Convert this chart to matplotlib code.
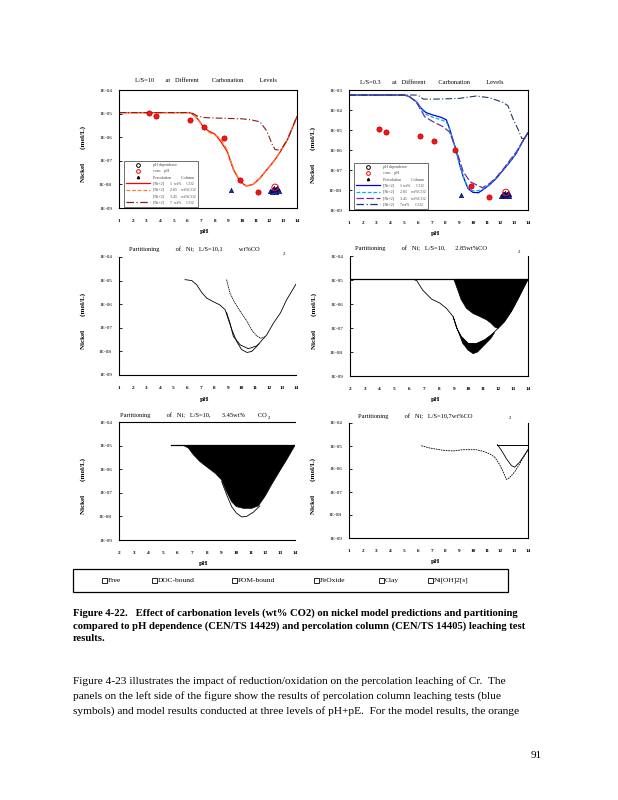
import numpy as np
import matplotlib
matplotlib.use("Agg")
from matplotlib import pyplot as plt
from matplotlib.lines import Line2D
from matplotlib.patches import Rectangle

plt.rcParams['font.family'] = ['Liberation Serif', 'DejaVu Sans']

W, H = 618, 800

# ---------- data ----------
# pH dependence test (L/S=10) and percolation column results
phdep_ph = [3.2, 3.7, 6.15, 7.2, 8.7, 9.85, 11.15]
phdep_ni = [1.1e-5, 7.8e-6, 5.3e-6, 2.7e-6, 9.5e-7, 1.5e-8, 4.7e-9]
conc_ph = [12.4]
conc_ni = [7.5e-9]
perc_ph = [9.15, 12.05, 12.15, 12.2, 12.3, 12.35, 12.45, 12.5, 12.6, 12.65, 12.25, 12.55]
perc_ni = [5.8e-9, 5.2e-9, 6.0e-9, 4.9e-9, 5.6e-9, 7.0e-9, 6.2e-9, 5.0e-9, 6.5e-9, 5.3e-9, 6.6e-9, 7.2e-9]

# L/S=10 model curves
m10_1_ph = [1, 3, 5, 6.2, 6.55, 6.8, 7.15, 7.5, 8.0, 8.4, 8.9, 9.36, 9.85, 10.3, 10.8, 11.3, 11.8, 12.3, 12.8, 13.3, 14]
m10_1_ni = [1.1e-5, 1.1e-5, 1.1e-5, 1.1e-5, 8e-6, 5.4e-6, 2.8e-6, 1.9e-6, 1.35e-6, 7e-7, 2.5e-7, 4.2e-8, 1.3e-8, 8.5e-9, 1e-8, 1.85e-8, 4.2e-8, 9.4e-8, 2.5e-7, 7.8e-7, 7.5e-6]
m10_285_ph = [1, 3, 5, 6.2, 6.55, 6.8, 7.15, 7.5, 8.0, 8.3, 8.6, 8.9, 9.36, 9.85, 10.3, 10.8, 11.3, 11.8, 12.3, 12.8, 13.3, 14]
m10_285_ni = [1.1e-5, 1.1e-5, 1.1e-5, 1.1e-5, 8.2e-6, 5.6e-6, 2.9e-6, 1.7e-6, 1.2e-6, 1.0e-6, 6e-7, 2.8e-7, 4.5e-8, 1.35e-8, 8.7e-9, 1e-8, 1.9e-8, 4.3e-8, 9.6e-8, 2.6e-7, 8e-7, 7.5e-6]
m10_7_ph = [1, 3, 5, 6.3, 6.7, 7.2, 8.0, 9.1, 10.0, 10.6, 11.3, 11.8, 12.2, 12.4, 12.8, 13.3, 14]
m10_7_ni = [1.1e-5, 1.1e-5, 1.1e-5, 1.1e-5, 8e-6, 6.8e-6, 6.5e-6, 6.2e-6, 6e-6, 5.5e-6, 4.5e-6, 1.8e-6, 4.8e-7, 3e-7, 2.8e-7, 7.8e-7, 7.5e-6]

# L/S=0.3 model curves
m03_1_ph = [1, 3, 5.05, 5.4, 5.9, 6.25, 6.6, 7.1, 7.7, 8.07, 8.3, 8.55, 8.8, 9.04, 9.3, 9.64, 10.0, 10.4, 10.7, 11.2, 11.7, 12.2, 12.7, 13.15, 13.6, 14]
m03_1_ni = [5.6e-4, 5.6e-4, 5.6e-4, 4.6e-4, 2.6e-4, 1.2e-4, 7.4e-5, 5.6e-5, 4.3e-5, 3.2e-5, 1.2e-5, 3.2e-6, 8.3e-7, 1.8e-7, 4.6e-8, 1.2e-8, 7.6e-9, 7.3e-9, 1e-8, 1.8e-8, 3.8e-8, 1e-7, 2.6e-7, 6.8e-7, 2.6e-6, 7.4e-6]
m03_285_ph = [1, 3, 5.05, 5.4, 5.9, 6.25, 6.6, 7.1, 7.7, 8.07, 8.3, 8.55, 8.8, 9.04, 9.3, 9.64, 10.0, 10.4, 10.7, 11.2, 11.7, 12.2, 12.7, 13.15, 13.6, 14]
m03_285_ni = [5.6e-4, 5.6e-4, 5.6e-4, 4.6e-4, 2.5e-4, 1.1e-4, 6e-5, 4.3e-5, 3.2e-5, 2.5e-5, 1.1e-5, 3e-6, 8e-7, 1.8e-7, 4.8e-8, 1.3e-8, 9e-9, 9.2e-9, 1.1e-8, 1.9e-8, 4e-8, 1.05e-7, 2.7e-7, 7e-7, 2.6e-6, 7.4e-6]
m03_345_ph = [1, 3, 5.05, 5.4, 5.9, 6.5, 7.1, 7.8, 8.3, 8.8, 9.3, 9.8, 10.25, 10.7, 11.2, 11.7, 12.2, 12.7, 13.15, 13.6, 14]
m03_345_ni = [5.6e-4, 5.6e-4, 5.6e-4, 4.6e-4, 2.4e-4, 4.6e-5, 2.6e-5, 1.5e-5, 8e-6, 1e-6, 8e-8, 2.6e-8, 1.8e-8, 1.3e-8, 2.1e-8, 4.3e-8, 1.1e-7, 3.2e-7, 8e-7, 2.6e-6, 7.4e-6]
m03_7_ph = [1, 3, 6.0, 6.4, 7.3, 9.0, 10.25, 11.2, 12.2, 12.55, 12.9, 13.3, 13.55, 13.75, 14]
m03_7_ni = [5.6e-4, 5.6e-4, 5.6e-4, 3.5e-4, 3.5e-4, 3.8e-4, 5e-4, 4.1e-4, 2.4e-4, 1.6e-4, 3.8e-5, 1e-5, 3.8e-6, 3.8e-6, 7.4e-6]

# partitioning, 1 wt% CO2
p1_a_ph = [5.85, 6.35, 6.7, 7.1, 7.45, 7.9, 8.4, 8.8, 9.05, 9.3, 9.65, 10.0, 10.4, 10.75, 11.1, 11.5, 11.85, 12.35, 12.85, 13.3, 14]
p1_a_ni = [1.1e-5, 1e-5, 6.7e-6, 3e-6, 1.8e-6, 1.3e-6, 9.4e-7, 5.8e-7, 2.1e-7, 8e-8, 2.6e-8, 1.2e-8, 9e-9, 1e-8, 1.6e-8, 3e-8, 5e-8, 1.6e-7, 4.2e-7, 1.5e-6, 7.1e-6]
p1_b_ph = [8.9, 9.15, 9.4, 9.9, 10.5, 11.1, 11.3]
p1_b_ni = [4.5e-7, 1.6e-7, 4.3e-8, 1.9e-8, 1.3e-8, 1.7e-8, 2.1e-8]
p1_c_ph = [8.9, 9.15, 9.45, 9.9, 10.4, 10.75, 11.1, 11.4, 11.7]
p1_c_ni = [1.1e-5, 3e-6, 1.3e-6, 5e-7, 1.9e-7, 8e-8, 4.6e-8, 3.6e-8, 4.2e-8]

# partitioning, 2.85 wt% CO2
p285_top = 1.07e-5
p285_free_ph = [6.26, 6.5, 6.9, 7.5, 8.05, 8.5, 8.95, 9.2, 9.5, 9.96, 10.5, 11.08, 11.5, 11.98, 12.4, 12.87, 13.3, 14]
p285_free_ni = [1.07e-5, 9.4e-6, 3.8e-6, 1.6e-6, 1.1e-6, 6.6e-7, 3e-7, 9.7e-8, 4.4e-8, 2.3e-8, 2.2e-8, 3.2e-8, 5e-8, 9.7e-8, 1.8e-7, 4.8e-7, 1.5e-6, 1.07e-5]
p285_low_ph = [8.95, 9.3, 9.6, 9.96, 10.3, 10.6, 11.08, 11.5, 11.75]
p285_low_ni = [3e-7, 7e-8, 2.3e-8, 1.2e-8, 8.5e-9, 1.0e-8, 2e-8, 3.7e-8, 6.5e-8]
p285_up_ph = [9.0, 9.18, 9.5, 9.85, 10.3, 10.75, 11.2, 11.5, 11.75, 11.98, 12.4, 12.87, 13.3, 14]
p285_up_ni = [1.07e-5, 5.3e-6, 1.5e-6, 6.6e-7, 4e-7, 3e-7, 2.2e-7, 1.6e-7, 1.1e-7, 9.7e-8, 1.8e-7, 4.8e-7, 1.5e-6, 1.07e-5]

# partitioning, 3.45 wt% CO2
p345_top = 1.02e-5
p345_blk_ph = [6.39, 6.73, 7.07, 7.52, 8.1, 8.55, 9.0, 9.34, 9.68, 10.0, 10.48, 11.05, 11.5, 11.95, 12.4, 12.98, 13.43, 14]
p345_blk_ni = [1.02e-5, 7.9e-6, 4.1e-6, 2.1e-6, 1.1e-6, 6.8e-7, 3.5e-7, 1.1e-7, 4.2e-8, 2.6e-8, 2.2e-8, 2.2e-8, 2.8e-8, 7e-8, 2.2e-7, 8.8e-7, 2.5e-6, 1.02e-5]
p345_low_ph = [9.0, 9.34, 9.68, 10.0, 10.36, 10.7, 11.16, 11.6]
p345_low_ni = [3e-7, 8.3e-8, 2.6e-8, 1.4e-8, 9.5e-9, 1e-8, 1.5e-8, 2.8e-8]

# partitioning, 7 wt% CO2
p7_dash_ph = [6.25, 6.86, 7.83, 8.55, 9.28, 10.25, 10.73, 11.2, 11.58, 11.9, 12.2, 12.43, 12.66, 13.03, 13.4, 14]
p7_dash_ni = [1.03e-5, 8.2e-6, 6.5e-6, 6.1e-6, 6.9e-6, 6.9e-6, 5.9e-6, 4.6e-6, 3.3e-6, 1.7e-6, 7.5e-7, 3.5e-7, 4.2e-7, 7.5e-7, 1.7e-6, 6.9e-6]
p7_top = 1.15e-5
p7_sol_ph = [11.77, 12.07, 12.43, 12.8, 13.03, 13.4, 14]
p7_sol_ni = [1.15e-5, 6.5e-6, 2.8e-6, 1.4e-6, 1.2e-6, 2e-6, 6.9e-6]

ytick_vals = [1e-9, 1e-8, 1e-7, 1e-6, 1e-5, 1e-4, 1e-3]
ytick_lbls = ['1E-09', '1E-08', '1E-07', '1E-06', '1E-05', '1E-04', '1E-03']
legend_items = ['Free', 'DOC-bound', 'POM-bound', 'FeOxide', 'Clay', 'Ni[OH]2[s]']

fig = plt.figure(figsize=(W / 100, H / 100), dpi=100)
fig.patch.set_facecolor('white')


def px(x, y):
    return x / W, 1 - y / H


def make_ax(l, t, r, b, xmin, ymax, spines):
    ax = fig.add_axes([l / W, 1 - b / H, (r - l) / W, (b - t) / H])
    ax.set_yscale('log')
    ax.set_xlim(xmin, 14)
    ax.set_ylim(1e-9, ymax)
    ax.set_xticks(range(xmin, 15))
    ax.set_xticklabels([str(v) for v in range(xmin, 15)], fontsize=3.8, fontweight='bold')
    ys = [v for v in ytick_vals if v <= ymax * 1.01]
    ax.set_yticks(ys)
    ax.set_yticklabels(ytick_lbls[:len(ys)], fontsize=3.8)
    ax.tick_params(axis='x', length=0, pad=8)
    ax.tick_params(axis='y', which='major', direction='in', length=2.5, width=0.6, pad=5)
    ax.tick_params(axis='y', which='minor', direction='in', length=1.2, width=0.5, labelleft=False)
    for s in ['left', 'right', 'top', 'bottom']:
        ax.spines[s].set_visible(s in spines)
        ax.spines[s].set_linewidth(0.8)
    ax.set_facecolor('white')
    return ax


def labels(l, t, r, b):
    fig.text(*px((l + r) / 2 - 3, b + 24), 'pH', fontsize=5, fontweight='bold', ha='center', va='center')
    fig.text(*px(l - 36, (t + b) / 2 + 5), 'Nickel        (mol/L)', fontsize=5, fontweight='bold',
             rotation=90, ha='center', va='center')


# ---- panel 1: L/S=10 ----
box = (119, 90, 297, 208)
ax1 = make_ax(*box, 1, 1e-4, ['left', 'right', 'top', 'bottom'])
ax1.plot(m10_1_ph, m10_1_ni, color='#ff0000', lw=0.9)
ax1.plot(m10_285_ph, m10_285_ni, color='#ff7f27', lw=0.9, ls=(0, (4, 2)))
ax1.plot(m10_7_ph, m10_7_ni, color='#8b1a1a', lw=0.8, ls=(0, (6, 2, 1, 2)))
ax1.scatter(phdep_ph, phdep_ni, s=14, color='#ff1010', edgecolor='#b00000', lw=0.5, zorder=4)
ax1.scatter(perc_ph, perc_ni, s=10, marker='^', color='#1030c0', edgecolor='#000040', lw=0.4, zorder=4)
ax1.scatter(conc_ph, conc_ni, s=22, facecolor='none', edgecolor='#ff0000', lw=0.7, zorder=5)
fig.text(*px(135, 81), 'L/S=10       at   Different        Carbonation          Levels', fontsize=4.6, va='center')
labels(*box)

# ---- panel 2: L/S=0.3 ----
box = (349, 90, 528, 210)
ax2 = make_ax(*box, 1, 1e-3, ['left', 'right', 'top', 'bottom'])
ax2.plot(m03_1_ph, m03_1_ni, color='#0000e0', lw=0.9)
ax2.plot(m03_285_ph, m03_285_ni, color='#00b0f0', lw=0.9, ls=(0, (3, 1.5)))
ax2.plot(m03_345_ph, m03_345_ni, color='#7030a0', lw=0.9, ls=(0, (6, 2)))
ax2.plot(m03_7_ph, m03_7_ni, color='#1f3864', lw=0.8, ls=(0, (6, 2, 1, 2)))
ax2.scatter(phdep_ph, phdep_ni, s=14, color='#ff1010', edgecolor='#b00000', lw=0.5, zorder=4)
ax2.scatter(perc_ph, perc_ni, s=10, marker='^', color='#1030c0', edgecolor='#000040', lw=0.4, zorder=4)
ax2.scatter(conc_ph, conc_ni, s=22, facecolor='none', edgecolor='#ff0000', lw=0.7, zorder=5)
fig.text(*px(360, 83), 'L/S=0.3       at   Different        Carbonation          Levels', fontsize=4.6, va='center')
labels(*box)

# legends in the two top panels
def top_legend(ax, cols, names):
    hs = [Line2D([], [], ls='none', marker='o', mfc='none', mec='k', ms=2.7, mew=0.7),
          Line2D([], [], ls='none', marker='o', mfc='none', mec='r', ms=2.7, mew=0.7),
          Line2D([], [], ls='none', marker='^', mfc='k', mec='k', ms=1.6)]
    styles = ['-', (0, (3, 1.5)), (0, (6, 2)), (0, (6, 2, 1, 2))]
    for c, st in zip(cols, styles):
        hs.append(Line2D([], [], color=c, lw=0.9, ls=st))
    lg = ax.legend(hs, ['pH dependence', 'conc.   pH', 'Percolation          Column'] + names,
                   loc='lower left', bbox_to_anchor=(0.02, 0.0), fontsize=2.9, frameon=True,
                   fancybox=False, handlelength=6, labelspacing=0.55, borderpad=0.6,
                   handletextpad=0.6, borderaxespad=0.3)
    lg.get_frame().set_edgecolor('black')
    lg.get_frame().set_linewidth(0.5)
    for t in lg.get_texts():
        t.set_color('#444444')


top_legend(ax1, ['#ff0000', '#ff7f27', 'none', '#8b1a1a'],
           ['[Ni+2]      1  wt%     CO2', '[Ni+2]      2.85    wt%CO2',
            '[Ni+2]      3.45    wt%CO2', '[Ni+2]      7  wt%     CO2'])
top_legend(ax2, ['#0000e0', '#00b0f0', '#7030a0', '#1f3864'],
           ['[Ni+2]      1 wt%      CO2', '[Ni+2]      2.85    wt%CO2',
            '[Ni+2]      3.45    wt%CO2', '[Ni+2]      7wt%      CO2'])

# ---- panel 3: partitioning 1 wt% ----
box = (119, 257, 296, 375)
ax3 = make_ax(*box, 1, 1e-4, ['left', 'bottom'])
ax3.plot(p1_a_ph, p1_a_ni, color='k', lw=0.6)
ax3.plot(p1_b_ph, p1_b_ni, color='k', lw=0.6)
ax3.plot(p1_c_ph, p1_c_ni, color='k', lw=0.6, ls=(0, (1.5, 0.8)))
fig.text(*px(129, 249), 'Partitioning          of   Ni;   L/S=10,1          wt%CO', fontsize=4.6, va='center')
fig.text(*px(283, 254), '2', fontsize=3.5, va='center')
labels(*box)

# ---- panel 4: partitioning 2.85 wt% ----
box = (350, 256, 528, 376)
ax4 = make_ax(*box, 2, 1e-4, ['left', 'right', 'bottom'])
ax4.plot([2, 14], [p285_top, p285_top], color='k', lw=0.9)
ax4.plot(p285_free_ph, p285_free_ni, color='k', lw=0.6)
ax4.fill(p285_up_ph, p285_up_ni, color='k', lw=0.5)
sel = [i for i, v in enumerate(p285_free_ph) if p285_low_ph[0] <= v <= p285_low_ph[-1]]
ax4.fill(p285_low_ph + [p285_free_ph[i] for i in sel[::-1]],
         p285_low_ni + [p285_free_ni[i] for i in sel[::-1]], color='k', lw=0.5)
fig.text(*px(355, 248), 'Partitioning          of   Ni;   L/S=10,      2.85wt%CO', fontsize=4.6, va='center')
fig.text(*px(518, 252), '2', fontsize=3.5, va='center')
labels(*box)

# ---- panel 5: partitioning 3.45 wt% ----
box = (119, 422, 295, 540)
ax5 = make_ax(*box, 2, 1e-4, ['left', 'top', 'bottom'])
ax5.plot([5.55, 14], [p345_top, p345_top], color='k', lw=0.9)
ax5.fill(p345_blk_ph, p345_blk_ni, color='k', lw=0.5)
ax5.plot(p345_low_ph, p345_low_ni, color='k', lw=0.6)
fig.text(*px(120, 415), 'Partitioning          of   Ni;   L/S=10,       3.45wt%        CO', fontsize=4.6, va='center')
fig.text(*px(268, 418), '2', fontsize=3.5, va='center')
labels(*box)

# ---- panel 6: partitioning 7 wt% ----
box = (349, 423, 528, 538)
ax6 = make_ax(*box, 1, 1e-4, ['left', 'right', 'bottom'])
ax6.plot(p7_dash_ph, p7_dash_ni, color='k', lw=0.6, ls=(0, (2, 1)))
ax6.plot([p7_sol_ph[0], 14], [p7_top, p7_top], color='k', lw=0.7)
ax6.plot(p7_sol_ph, p7_sol_ni, color='k', lw=0.6)
fig.text(*px(358, 416), 'Partitioning          of   Ni;   L/S=10,7wt%CO', fontsize=4.6, va='center')
fig.text(*px(509, 418), '2', fontsize=3.5, va='center')
labels(*box)

# ---- shared legend box ----
fig.patches.append(Rectangle(px(73, 592), (508 - 73) / W, (592 - 569) / H, transform=fig.transFigure,
                             facecolor='white', edgecolor='black', lw=0.9))
for x0, name in zip([102, 152, 232, 314, 379, 428], legend_items):
    fig.patches.append(Rectangle(px(x0, 583), 5 / W, 5 / H, transform=fig.transFigure,
                                 facecolor='white', edgecolor='black', lw=0.6))
    fig.text(*px(x0 + 6, 580.5), name, fontsize=5.4, va='center', ha='left')

# ---- caption and body text ----
cap = ['Figure 4-22.   Effect of carbonation levels (wt% CO2) on nickel model predictions and partitioning',
       'compared to pH dependence (CEN/TS 14429) and percolation column (CEN/TS 14405) leaching test',
       'results.']
for i, s in enumerate(cap):
    fig.text(*px(73, 613 + 12.7 * i), s, fontsize=7.7, fontweight='bold', va='center', ha='left')

body = ['Figure 4-23 illustrates the impact of reduction/oxidation on the percolation leaching of Cr.  The',
        'panels on the left side of the figure show the results of percolation column leaching tests (blue',
        'symbols) and model results conducted at three levels of pH+pE.  For the model results, the orange']
for i, s in enumerate(body):
    fig.text(*px(73, 681 + 15 * i), s, fontsize=8.2, va='center', ha='left')
fig.text(*px(542, 756), '91', fontsize=8, va='center', ha='right')

fig.savefig('out.png', dpi=100, facecolor='white')
